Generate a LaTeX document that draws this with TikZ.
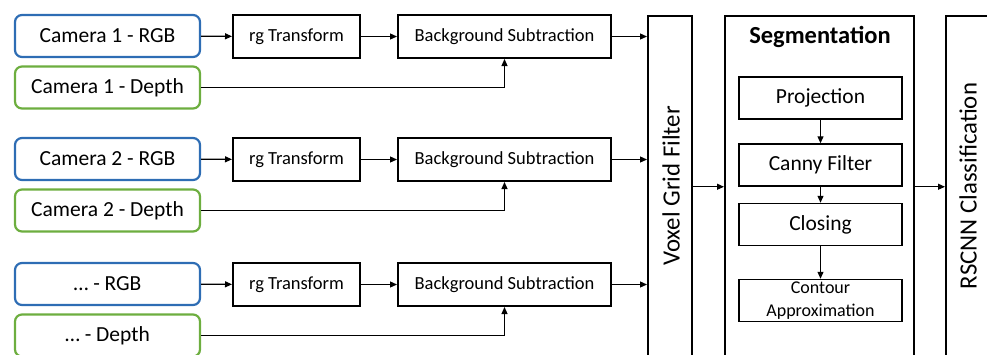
\documentclass[tikz,border=0pt]{standalone}
\usepackage{fontspec}
\setmainfont{Carlito}
\usetikzlibrary{arrows.meta,calc}
\definecolor{camblue}{HTML}{2E6DB4}
\definecolor{camgreen}{HTML}{6DAE3F}
\tikzset{
  x=1pt,y=-1pt,
  cam/.style={draw,rounded corners=7pt,line width=2.2pt,minimum width=185pt,minimum height=42pt,inner sep=0pt,font=\fontsize{21.5}{24}\selectfont},
  rgbcam/.style={cam,draw=camblue},
  depcam/.style={cam,draw=camgreen},
  proc/.style={draw,line width=2pt,minimum height=43pt,inner sep=0pt,font=\fontsize{18.5}{22}\selectfont},
  tall/.style={draw,line width=2pt,minimum height=370pt,inner sep=0pt,anchor=north},
  sub/.style={draw,line width=1.5pt,minimum width=163pt,minimum height=42pt,inner sep=0pt,font=\fontsize{21.5}{24}\selectfont},
  conn/.style={line width=1.2pt,-{Triangle[length=7pt,width=6pt]}},
}
\begin{document}
\begin{tikzpicture}
\useasboundingbox (0,0) rectangle (987,354);
% rows
\foreach \i/\y/\lab in {1/36/Camera 1,2/159/Camera 2,3/284/\dots} {
  \node[rgbcam] (rgb\i) at (107.5,\y) {\lab\ - RGB};
  \node[depcam] (dep\i) at (107.5,\y+51.5) {\lab\ - Depth};
  \node[proc,minimum width=127pt] (rg\i) at (296.5,\y+0.5) {rg Transform};
  \node[proc,minimum width=213pt] (bs\i) at (504.5,\y+0.5) {Background Subtraction};
}
% tall boxes
\node[tall,minimum width=44pt] (vox) at (670,15) {};
\node[rotate=90,font=\fontsize{24.8}{28}\selectfont] (voxt) at (671,186) {Voxel Grid Filter};
\node[tall,minimum width=189pt] (seg) at (819.5,15) {};
\node[font=\bfseries\fontsize{24.5}{28}\selectfont] (segt) at (820,37) {Segmentation};
\node[tall,minimum width=60pt] (cls) at (976,15) {};
\node[rotate=90,font=\fontsize{24.8}{28}\selectfont] (clst) at (968,186) {RSCNN Classification};
% segmentation steps
\node[sub] (proj) at (820.5,98) {Projection};
\node[sub] (canny) at (820.5,165) {Canny Filter};
\node[sub] (clos) at (820.5,224.5) {Closing};
\node[sub,align=center,font=\fontsize{18}{23}\selectfont] (cont) at (820.5,300.5) {Contour\\Approximation};
% connectors
\foreach \i in {1,2,3} {
  \draw[conn] (rgb\i) -- (rg\i);
  \draw[conn] (rg\i) -- (bs\i);
  \draw[conn] (bs\i.east) -- (bs\i.east -| vox.west);
  \draw[conn] (dep\i.east) -| (bs\i.south);
}
\draw[conn] (vox.east |- canny.south) -- (seg.west |- canny.south);
\draw[conn] (seg.east |- canny.south) -- (cls.west |- canny.south);
\draw[conn] (proj) -- (canny);
\draw[conn] (canny) -- (clos);
\draw[conn] (clos) -- (cont);
\end{tikzpicture}
\end{document}
